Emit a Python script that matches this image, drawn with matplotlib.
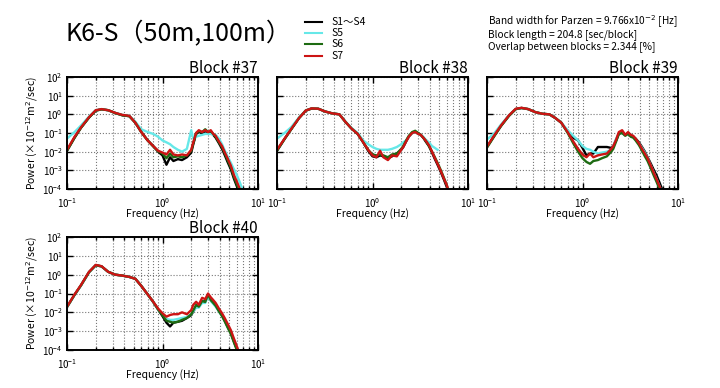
import numpy as np
import matplotlib
matplotlib.use("Agg")
import matplotlib.pyplot as plt
from matplotlib.ticker import LogLocator, NullLocator

plt.rcParams['font.family'] = ['Noto Sans CJK JP', 'DejaVu Sans']

# frequency grid (Hz) shared by every block
freq = [0.10, 0.12, 0.14, 0.17, 0.20, 0.23, 0.27, 0.32, 0.38, 0.45, 0.52, 0.60, 0.70, 0.80,
        0.90, 1.00, 1.10, 1.20, 1.30, 1.45, 1.60, 1.80, 2.00, 2.10, 2.25, 2.40, 2.60, 2.80,
        3.00, 3.20, 3.40, 3.60, 3.90, 4.20, 4.50, 4.80, 5.20, 5.60, 6.00, 6.40, 6.80, 7.20]

# log10 of power
b37_s1 = [-1.95, -1.25, -0.72, -0.17, 0.20, 0.27, 0.22, 0.07, -0.05, -0.10, -0.45, -0.95, -1.40, -1.70,
          -2.00, -2.20, -2.70, -2.30, -2.50, -2.40, -2.45, -2.30, -2.05, -1.60, -1.05, -0.95, -1.00, -0.90,
          -1.00, -0.95, -1.10, -1.25, -1.55, -1.85, -2.20, -2.55, -2.95, -3.45, -3.85, -4.30, -4.80, -5.20]
b37_s5 = [-1.30, -0.95, -0.60, -0.12, 0.22, 0.28, 0.22, 0.08, -0.03, -0.08, -0.40, -0.80, -0.95, -1.05,
          -1.20, -1.40, -1.50, -1.60, -1.75, -1.90, -2.00, -1.85, -0.85, -1.30, -1.20, -1.15, -1.10, -1.05,
          -1.05, -1.05, -1.10, -1.10, -1.30, -1.60, -1.95, -2.25, -2.60, -2.95, -3.25, -3.60, -3.95, -4.30]
b37_s6 = [-1.95, -1.25, -0.72, -0.17, 0.20, 0.27, 0.22, 0.07, -0.05, -0.10, -0.45, -0.95, -1.40, -1.72,
          -1.98, -2.10, -2.35, -2.10, -2.30, -2.25, -2.30, -2.20, -1.95, -1.55, -1.00, -0.90, -0.95, -0.80,
          -0.95, -0.90, -1.05, -1.20, -1.50, -1.75, -2.10, -2.45, -2.85, -3.35, -3.75, -4.10, -4.60, -5.00]
b37_s7 = [-1.90, -1.20, -0.70, -0.15, 0.22, 0.28, 0.22, 0.08, -0.03, -0.08, -0.45, -0.95, -1.40, -1.70,
          -1.95, -2.05, -2.15, -1.90, -2.15, -2.20, -2.15, -2.20, -1.90, -1.50, -1.00, -0.85, -0.95, -0.85,
          -0.95, -0.85, -1.05, -1.15, -1.45, -1.70, -2.05, -2.35, -2.75, -3.25, -3.60, -3.95, -4.40, -4.80]

b38_s1 = [-1.95, -1.32, -0.82, -0.20, 0.20, 0.31, 0.30, 0.15, 0.05, 0.00, -0.40, -0.75, -1.05, -1.50,
          -1.95, -2.25, -2.30, -2.20, -2.25, -2.35, -2.25, -2.10, -1.90, -1.75, -1.45, -1.20, -1.00, -0.95,
          -1.00, -1.10, -1.25, -1.45, -1.70, -2.05, -2.40, -2.70, -3.10, -3.50, -3.90, -4.40, -4.90, -5.30]
b38_s5 = [-1.30, -1.00, -0.70, -0.17, 0.20, 0.32, 0.30, 0.15, 0.05, 0.00, -0.38, -0.72, -1.00, -1.40,
          -1.60, -1.75, -1.85, -1.90, -1.90, -1.90, -1.85, -1.75, -1.60, -1.50, -1.40, -1.20, -1.00, -0.95,
          -1.05, -1.10, -1.20, -1.35, -1.50, -1.70, -1.80, -1.90, np.nan, np.nan, np.nan, np.nan, np.nan, np.nan]
b38_s6 = [-1.95, -1.32, -0.82, -0.20, 0.20, 0.31, 0.30, 0.15, 0.05, 0.00, -0.40, -0.75, -1.05, -1.50,
          -1.90, -2.15, -2.20, -2.15, -2.20, -2.30, -2.15, -2.10, -1.85, -1.70, -1.40, -1.15, -0.95, -0.88,
          -1.00, -1.10, -1.25, -1.40, -1.70, -2.00, -2.30, -2.60, -3.00, -3.40, -3.80, -4.30, -4.80, -5.20]
b38_s7 = [-1.90, -1.30, -0.80, -0.20, 0.20, 0.32, 0.30, 0.15, 0.05, 0.00, -0.40, -0.75, -1.05, -1.50,
          -1.90, -2.20, -2.30, -1.95, -2.30, -2.45, -2.20, -2.25, -1.90, -1.75, -1.45, -1.20, -1.00, -0.95,
          -1.05, -1.10, -1.25, -1.40, -1.65, -2.00, -2.35, -2.65, -3.05, -3.45, -3.80, -4.30, -4.80, -5.20]

b39_s1 = [-1.75, -1.12, -0.62, -0.07, 0.28, 0.34, 0.28, 0.12, 0.03, 0.00, -0.20, -0.45, -0.95, -1.25,
          -1.40, -1.80, -2.20, -2.10, -2.10, -1.75, -1.75, -1.75, -1.80, -1.70, -1.40, -1.05, -0.95, -1.10,
          -1.00, -1.10, -1.20, -1.30, -1.50, -1.75, -2.00, -2.30, -2.65, -3.00, -3.30, -3.65, -4.00, -4.40]
b39_s5 = [-1.35, -1.00, -0.55, -0.05, 0.28, 0.34, 0.28, 0.12, 0.03, 0.00, -0.20, -0.45, -0.85, -1.15,
          -1.40, -1.70, -1.85, -1.90, -2.00, -2.10, -2.05, -2.00, -1.90, -1.70, -1.30, -1.05, -1.00, -1.10,
          -1.05, -1.10, -1.20, -1.35, -1.55, -1.80, -2.05, -2.35, -2.75, -3.15, -3.50, -3.85, -4.20, -4.60]
b39_s6 = [-1.78, -1.15, -0.63, -0.08, 0.28, 0.34, 0.28, 0.12, 0.03, 0.00, -0.20, -0.45, -1.00, -1.55,
          -2.00, -2.35, -2.55, -2.65, -2.50, -2.45, -2.35, -2.25, -2.00, -1.85, -1.45, -1.05, -1.00, -1.15,
          -1.05, -1.20, -1.25, -1.40, -1.65, -1.95, -2.25, -2.50, -2.90, -3.30, -3.65, -4.00, -4.40, -4.80]
b39_s7 = [-1.72, -1.10, -0.60, -0.05, 0.30, 0.35, 0.28, 0.12, 0.03, 0.00, -0.20, -0.45, -0.95, -1.45,
          -1.85, -2.15, -2.30, -2.10, -2.30, -2.20, -2.15, -2.10, -1.85, -1.70, -1.35, -0.95, -0.85, -1.10,
          -0.95, -1.10, -1.15, -1.30, -1.55, -1.85, -2.10, -2.35, -2.75, -3.15, -3.50, -3.85, -4.20, -4.60]

b40_s1 = [-1.72, -1.07, -0.57, 0.13, 0.50, 0.44, 0.15, 0.00, -0.05, -0.12, -0.22, -0.60, -1.05, -1.45,
          -1.85, -2.20, -2.55, -2.75, -2.55, -2.50, -2.45, -2.30, -2.15, -1.95, -1.70, -1.65, -1.45, -1.40,
          -1.10, -1.30, -1.45, -1.60, -1.90, -2.15, -2.45, -2.75, -3.10, -3.55, -3.95, -4.40, -4.80, -5.20]
b40_s5 = [-1.72, -1.07, -0.57, 0.13, 0.50, 0.44, 0.15, 0.00, -0.05, -0.12, -0.22, -0.60, -1.05, -1.45,
          -1.85, -2.10, -2.35, -2.40, -2.40, -2.35, -2.30, -2.25, -2.10, -1.95, -1.75, -1.75, -1.50, -1.50,
          -1.15, -1.40, -1.55, -1.70, -1.95, -2.20, -2.45, -2.70, -3.05, -3.45, -3.85, -4.30, -4.70, -5.10]
b40_s6 = [-1.72, -1.07, -0.57, 0.13, 0.50, 0.44, 0.15, 0.00, -0.05, -0.12, -0.22, -0.60, -1.05, -1.45,
          -1.85, -2.15, -2.45, -2.50, -2.55, -2.50, -2.40, -2.30, -2.10, -1.90, -1.60, -1.70, -1.40, -1.45,
          -1.05, -1.35, -1.50, -1.65, -1.95, -2.20, -2.50, -2.80, -3.15, -3.60, -4.00, -4.40, -4.80, -5.20]
b40_s7 = [-1.70, -1.05, -0.55, 0.15, 0.52, 0.45, 0.15, 0.00, -0.05, -0.12, -0.22, -0.60, -1.05, -1.44,
          -1.80, -2.05, -2.23, -2.14, -2.10, -2.10, -2.00, -2.10, -1.88, -1.60, -1.44, -1.60, -1.23, -1.30,
          -1.00, -1.20, -1.35, -1.50, -1.80, -2.05, -2.32, -2.60, -2.95, -3.40, -3.80, -4.20, -4.60, -5.00]

blocks = ["Block #37", "Block #38", "Block #39", "Block #40"]
series_labels = ["S1～S4", "S5", "S6", "S7"]
series_colors = ["#000000", "#66e8e8", "#1d6b12", "#cc1414"]
block_data = [[b37_s1, b37_s5, b37_s6, b37_s7],
              [b38_s1, b38_s5, b38_s6, b38_s7],
              [b39_s1, b39_s5, b39_s6, b39_s7],
              [b40_s1, b40_s5, b40_s6, b40_s7]]

W, H = 720, 388
fig = plt.figure(figsize=(W / 100, H / 100), dpi=100)
fig.patch.set_facecolor("white")

# axes boxes in pixels: left, top, right, bottom
boxes = [(67, 77, 258, 189), (277, 77, 468, 189), (487, 77, 678, 189), (67, 237, 258, 350)]

f = np.array(freq)
for i, (l, t, r, b) in enumerate(boxes):
    ax = fig.add_axes([l / W, 1 - b / H, (r - l) / W, (b - t) / H])
    for vals, col in zip(block_data[i], series_colors):
        ax.plot(f, 10 ** np.array(vals, dtype=float), color=col, lw=1.7)
    ax.set_xscale("log")
    ax.set_yscale("log")
    ax.set_xlim(0.1, 10)
    ax.set_ylim(1e-4, 1e2)
    ax.yaxis.set_major_locator(LogLocator(base=10, numticks=10))
    ax.yaxis.set_minor_locator(NullLocator())
    ax.xaxis.set_minor_locator(LogLocator(base=10, subs=np.arange(2, 10), numticks=10))
    ax.grid(True, which="major", axis="both", ls=":", color="#777777", lw=0.8)
    ax.grid(True, which="minor", axis="x", ls=":", color="#777777", lw=0.8)
    ax.tick_params(which="both", direction="in", top=True, right=True, labelsize=7, width=1)
    ax.tick_params(which="major", length=4)
    ax.tick_params(which="minor", length=2.5)
    ax.tick_params(axis="x", pad=5)
    ax.tick_params(axis="y", pad=3)
    for sp in ax.spines.values():
        sp.set_linewidth(1.4)
    ax.set_xlabel("Frequency (Hz)", fontsize=7.5, labelpad=-1)
    ax.set_title(blocks[i], loc="right", fontsize=11, pad=2)
    if i in (0, 3):
        ax.set_ylabel("Power (×10$^{-12}$m$^2$/sec)", fontsize=7.5, labelpad=2)
    else:
        ax.set_yticklabels([])

fig.text(65 / W, 1 - 34 / H, "K6-S（50m,100m）", fontsize=18, va="center", ha="left")

# legend drawn by hand
leg_y = [22, 33, 44, 56]
for lab, col, y in zip(series_labels, series_colors, leg_y):
    fig.add_artist(plt.Line2D([305 / W, 322 / W], [1 - y / H, 1 - y / H], color=col, lw=1.5))
    fig.text(331 / W, 1 - y / H, lab, fontsize=7.5, va="center", ha="left")

info = ["Band width for Parzen = 9.766x10$^{-2}$ [Hz]",
        "Block length = 204.8 [sec/block]",
        "Overlap between blocks = 2.344 [%]"]
info_y = [22, 35, 47]
for s, y in zip(info, info_y):
    fig.text(488 / W, 1 - y / H, s, fontsize=7.3, va="center", ha="left")

fig.savefig("out.png", dpi=100)
